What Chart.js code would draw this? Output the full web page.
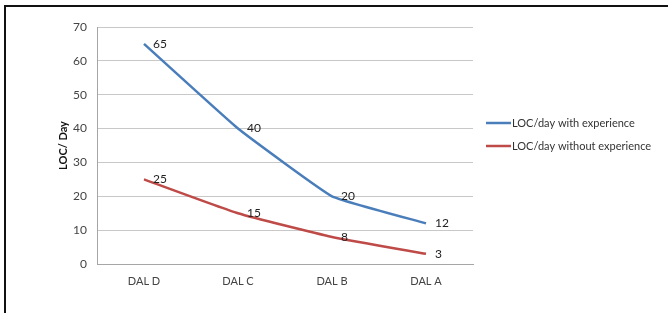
<!DOCTYPE html>
<html>
<head>
<meta charset="utf-8">
<script src="https://cdn.jsdelivr.net/npm/chart.js@4"></script>
<style>
  body { margin: 0; background: #fff; }
  #wrap { position: relative; width: 668px; height: 313px; }
  #frame { position: absolute; left: 4px; top: 5px; right: 0; bottom: 0; border-top: 2px solid #111; border-left: 2px solid #111; pointer-events: none; }
</style>
</head>
<body>
<div id="wrap">
  <canvas id="locChart" width="668" height="313"></canvas>
  <div id="frame"></div>
</div>
<script>
const categories = ['DAL D', 'DAL C', 'DAL B', 'DAL A'];
const withExperience = [65, 40, 20, 12];
const withoutExperience = [25, 15, 8, 3];
const seriesNames = ['LOC/day with experience', 'LOC/day without experience'];

const FONT = 'Lato, "Noto Sans", sans-serif';

// value labels to the right of each point
const pointLabels = {
  id: 'pointLabels',
  afterDatasetsDraw(chart) {
    const ctx = chart.ctx;
    ctx.save();
    ctx.font = '12px ' + FONT;
    ctx.fillStyle = '#222';
    ctx.textAlign = 'left';
    ctx.textBaseline = 'middle';
    chart.data.datasets.forEach((ds, i) => {
      chart.getDatasetMeta(i).data.forEach((pt, j) => {
        ctx.fillText(String(ds.data[j]), pt.x + 9, pt.y);
      });
    });
    ctx.restore();
  }
};

// legend drawn on the right like the Excel one
const sideLegend = {
  id: 'sideLegend',
  afterDraw(chart) {
    const ctx = chart.ctx;
    ctx.save();
    ctx.font = '11px ' + FONT;
    ctx.textBaseline = 'middle';
    ctx.textAlign = 'left';
    chart.data.datasets.forEach((ds, i) => {
      const y = 123 + i * 23;
      ctx.strokeStyle = ds.borderColor;
      ctx.lineWidth = 2.5;
      ctx.beginPath();
      ctx.moveTo(486, y);
      ctx.lineTo(511, y);
      ctx.stroke();
      ctx.fillStyle = '#333';
      ctx.fillText(ds.label, 512, y);
    });
    ctx.restore();
  }
};

new Chart(document.getElementById('locChart'), {
  type: 'line',
  data: {
    labels: categories,
    datasets: [
      {
        label: seriesNames[0],
        data: withExperience,
        borderColor: '#4a7ebb',
        borderWidth: 2.5,
        pointRadius: 0,
        tension: 0.1,
        fill: false
      },
      {
        label: seriesNames[1],
        data: withoutExperience,
        borderColor: '#be4b48',
        borderWidth: 2.5,
        pointRadius: 0,
        tension: 0.15,
        fill: false
      }
    ]
  },
  options: {
    responsive: false,
    animation: false,
    events: [],
    layout: { padding: { top: 27, right: 195, bottom: 0, left: 0 } },
    plugins: {
      legend: { display: false },
      tooltip: { enabled: false }
    },
    scales: {
      x: {
        offset: true,
        grid: { display: false, drawTicks: false },
        border: { color: '#a6a6a6', width: 1 },
        ticks: { color: '#444', font: { family: FONT, size: 11 }, padding: 11 },
        afterFit(scale) { scale.height = 49; }
      },
      y: {
        min: 0,
        max: 70,
        ticks: { stepSize: 10, color: '#444', font: { family: FONT, size: 12 }, padding: 10 },
        grid: { color: '#c8c8c8', drawTicks: false },
        border: { color: '#a6a6a6', width: 1 },
        title: {
          display: true,
          text: 'LOC/ Day',
          color: '#111',
          font: { family: FONT, size: 11, weight: 'bold' },
          padding: { top: 57, bottom: 0 }
        },
        afterFit(scale) { scale.width = 97; }
      }
    }
  },
  plugins: [pointLabels, sideLegend]
});
</script>
</body>
</html>
